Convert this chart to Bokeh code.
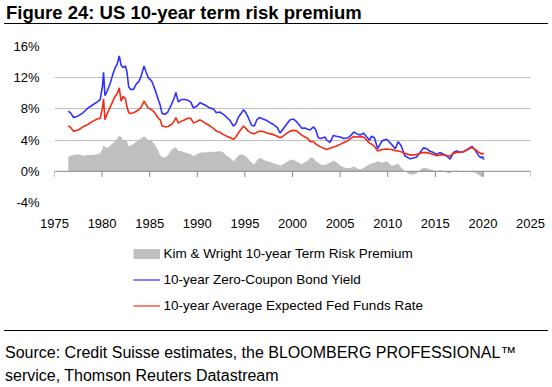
from bokeh.plotting import figure
from bokeh.layouts import column
from bokeh.models import (ColumnDataSource, FixedTicker, PrintfTickFormatter, Span,
                          Legend, LegendItem, Range1d, Div)
from bokeh.embed import file_html
from bokeh.resources import INLINE

# ---------------- data ----------------
years = [1976.45, 1976.7, 1977.0, 1977.5, 1978.0, 1978.5, 1979.0, 1979.5, 1979.8, 1980.05,
         1980.15, 1980.3, 1980.5, 1980.8, 1981.1, 1981.35, 1981.6, 1981.8, 1982.0, 1982.2,
         1982.45, 1982.6, 1982.8, 1983.0, 1983.3, 1983.6, 1983.85, 1984.1, 1984.4, 1984.6,
         1984.85, 1985.2, 1985.55, 1985.9, 1986.1, 1986.3, 1986.6, 1986.9, 1987.3, 1987.6,
         1987.75, 1988.0, 1988.3, 1988.7, 1989.0, 1989.3, 1989.6, 1990.0, 1990.3, 1990.8,
         1991.35, 1991.7, 1992.0, 1992.35, 1992.75, 1993.1, 1993.45, 1993.8, 1994.05, 1994.3,
         1994.6, 1994.85, 1995.1, 1995.35, 1995.7, 1996.0, 1996.25, 1996.55, 1996.9, 1997.3,
         1997.7, 1998.0, 1998.4, 1998.7, 1999.0, 1999.3, 1999.75, 2000.1, 2000.4, 2000.8,
         2001.0, 2001.3, 2001.6, 2001.85, 2002.2, 2002.45, 2002.7, 2003.0, 2003.4, 2003.6,
         2003.95, 2004.3, 2004.6, 2005.0, 2005.4, 2005.85, 2006.2, 2006.45, 2006.9, 2007.2,
         2007.45, 2007.8, 2008.1, 2008.3, 2008.6, 2008.95, 2009.4, 2009.9, 2010.4, 2010.8,
         2011.1, 2011.4, 2011.8, 2012.35, 2012.7, 2013.0, 2013.4, 2013.75, 2014.1, 2014.4,
         2014.8, 2015.15, 2015.5, 2015.85, 2016.2, 2016.55, 2016.9, 2017.25, 2017.6, 2017.95,
         2018.5, 2018.85, 2019.2, 2019.5, 2019.8, 2019.95, 2020.1]

zero_coupon_yield = [7.7, 7.5, 6.9, 7.1, 7.5, 8.1, 8.5, 8.9, 9.2, 11.0,
                     12.7, 9.7, 10.2, 11.1, 12.3, 13.2, 13.8, 14.8, 13.6, 13.3,
                     13.5, 12.8, 10.8, 10.5, 10.5, 11.2, 11.5, 12.2, 13.5, 12.8,
                     12.0, 11.6, 10.5, 9.2, 8.5, 7.4, 7.3, 7.6, 8.6, 9.5,
                     10.1, 8.9, 9.2, 9.2, 9.1, 8.9, 8.1, 8.4, 8.8, 8.5,
                     8.1, 8.0, 7.5, 7.6, 7.3, 6.9, 6.5, 5.8, 6.1, 6.9,
                     7.4, 7.9, 7.5, 6.9, 5.9, 5.8, 6.6, 6.9, 6.7, 6.5,
                     6.2, 6.0, 5.6, 4.9, 5.4, 5.9, 6.6, 6.7, 6.4, 5.8,
                     5.5, 5.55, 5.4, 5.3, 5.7, 5.3, 4.3, 4.2, 4.4, 4.0,
                     3.7, 4.6, 4.5, 4.4, 4.2, 4.3, 4.7, 5.05, 4.7, 4.7,
                     4.9, 4.4, 4.0, 4.5, 4.3, 2.9, 3.9, 4.1, 3.45, 2.9,
                     3.8, 3.3, 2.0, 1.6, 1.7, 1.8, 2.4, 3.0, 2.9, 2.6,
                     2.4, 2.15, 2.4, 2.2, 2.0, 1.55, 2.4, 2.6, 2.45, 2.5,
                     2.9, 3.2, 2.7, 2.1, 1.7, 1.9, 1.5]

expected_fed_funds = [5.85, 5.6, 5.15, 5.3, 5.7, 6.0, 6.4, 6.7, 6.8, 8.2,
                      9.3, 6.6, 7.3, 8.1, 8.9, 9.6, 10.0, 10.7, 9.0, 9.6,
                      9.3, 8.3, 7.5, 7.4, 7.5, 7.7, 7.9, 8.2, 9.0, 8.6,
                      8.1, 7.9, 7.5, 6.8, 6.6, 5.8, 5.7, 5.75, 6.0, 6.5,
                      6.9, 6.2, 6.4, 6.6, 6.8, 6.8, 6.2, 6.4, 6.6, 6.2,
                      5.8, 5.5, 5.15, 5.0, 4.7, 4.5, 4.3, 4.1, 4.4, 4.9,
                      5.4, 5.8, 5.5, 5.15, 4.9, 4.8, 5.0, 5.15, 5.1, 4.9,
                      4.8, 4.7, 4.5, 4.3, 4.5, 4.8, 5.15, 5.25, 5.2, 4.8,
                      4.6, 4.4, 4.2, 3.8, 3.8, 3.5, 3.3, 3.1, 2.9, 2.8,
                      2.95, 3.1, 3.25, 3.45, 3.7, 3.95, 4.3, 4.45, 4.4, 4.45,
                      4.4, 4.0, 3.6, 3.5, 3.2, 2.6, 2.8, 2.85, 2.8, 2.65,
                      2.6, 2.5, 2.3, 2.1, 2.1, 2.15, 2.3, 2.4, 2.4, 2.3,
                      2.15, 2.0, 2.1, 2.1, 2.0, 1.95, 2.3, 2.4, 2.45, 2.5,
                      2.85, 3.05, 2.8, 2.5, 2.25, 2.3, 2.25]

term_premium = [1.9, 2.0, 2.1, 2.2, 2.0, 2.1, 2.1, 2.2, 2.3, 2.9,
                3.4, 3.1, 3.0, 3.2, 3.6, 3.9, 4.2, 4.6, 4.4, 4.0,
                3.9, 3.85, 3.2, 3.3, 3.5, 3.8, 4.0, 4.2, 4.5, 4.3,
                4.0, 3.9, 3.4, 2.6, 2.1, 1.8, 1.8, 2.0, 2.8, 3.0,
                3.1, 2.6, 2.6, 2.4, 2.3, 2.2, 1.95, 2.2, 2.4, 2.4,
                2.5, 2.5, 2.5, 2.6, 2.4, 1.95, 1.7, 1.3, 1.6, 2.0,
                2.2, 2.1, 1.95, 1.6, 1.1, 0.9, 1.4, 1.75, 1.5, 1.3,
                1.2, 1.0, 0.9, 0.7, 0.9, 1.1, 1.5, 1.45, 1.3, 1.0,
                0.95, 1.2, 1.4, 1.75, 1.7, 1.3, 1.1, 0.85, 0.8, 0.9,
                1.1, 1.4, 1.2, 0.75, 0.5, 0.4, 0.5, 0.6, 0.3, 0.25,
                0.45, 0.7, 0.9, 1.0, 1.1, 1.3, 1.1, 1.3, 0.7, 0.8,
                1.0, 0.5, 0.05, -0.4, -0.4, -0.3, 0.2, 0.45, 0.4, 0.25,
                0.15, 0.05, 0.1, 0.1, -0.15, -0.25, 0.0, 0.1, 0.0, 0.05,
                0.05, -0.05, -0.2, -0.4, -0.7, -0.6, -0.8]

x_ticks = [1975, 1980, 1985, 1990, 1995, 2000, 2005, 2010, 2015, 2020, 2025]
y_ticks = [-4, 0, 4, 8, 12, 16]

title_text = "Figure 24: US 10-year term risk premium"
source_lines = ["Source: Credit Suisse estimates, the BLOOMBERG PROFESSIONAL\u2122",
                "service, Thomson Reuters Datastream"]
series_names = ["Kim & Wright 10-year Term Risk Premium",
                "10-year Zero-Coupon Bond Yield",
                "10-year Average Expected Fed Funds Rate"]

FONT = "Liberation Sans"
GRAY, BLUE, RED = "#BFBFBF", "#3030FF", "#F42C14"
W = 552
FL, FW = 54, 476
FR = W - FL - FW

# ---------------- title (HTML) ----------------
HT = 28
title_div = Div(width=W, height=HT, margin=0, text=(
    f'<div style="position:relative;width:{W}px;height:{HT}px;">'
    f'<div style="position:absolute;left:6px;top:2px;white-space:nowrap;'
    f"font-family:'{FONT}';font-weight:bold;font-size:18.5px;line-height:21px;color:#000;\">"
    f'{title_text}</div>'
    f'<div style="position:absolute;left:4px;width:544px;top:23.4px;height:0;'
    f'border-top:1.4px solid #000;"></div></div>'))

# ---------------- main chart ----------------
HM = 212
FT, FH = 18, 156
p = figure(width=W, height=HM, output_backend="svg", toolbar_location=None,
           x_range=Range1d(1975, 2025), y_range=Range1d(-4, 16),
           min_border_left=FL, min_border_right=FR,
           min_border_top=FT, min_border_bottom=HM - FT - FH)
p.outline_line_color = None
p.background_fill_color = "white"
p.border_fill_color = "white"

src = ColumnDataSource(dict(x=years, b=zero_coupon_yield, r=expected_fed_funds,
                            g=term_premium, z=[0] * len(years)))
p.varea(x="x", y1="z", y2="g", source=src, fill_color=GRAY)
p.line("x", "b", source=src, line_color=BLUE, line_width=1.6)
p.line("x", "r", source=src, line_color=RED, line_width=1.6)

for ax in (p.xaxis, p.yaxis):
    ax.axis_line_color = None
    ax.major_tick_line_color = None
    ax.minor_tick_line_color = None
    ax.major_tick_out = 0
    ax.major_tick_in = 0
    ax.major_label_text_font = FONT
    ax.major_label_text_font_size = "13px"
    ax.major_label_text_color = "black"
p.yaxis.ticker = FixedTicker(ticks=y_ticks)
p.yaxis.formatter = PrintfTickFormatter(format="%d%%")
p.yaxis.major_label_standoff = 15
p.xaxis.ticker = FixedTicker(ticks=x_ticks)
p.xaxis.formatter = PrintfTickFormatter(format="%d")
p.xaxis.major_label_standoff = 16

p.xgrid.visible = False
p.ygrid.ticker = FixedTicker(ticks=[t for t in y_ticks if t != 0])
p.ygrid.grid_line_color = GRAY

p.add_layout(Span(location=0, dimension="width", line_color="#868686", line_width=1))
p.segment(x0=x_ticks, y0=[0] * len(x_ticks), x1=x_ticks, y1=[-0.72] * len(x_ticks),
          line_color="#868686", line_width=1)

# ---------------- legend (swatches reuse the same data, kept outside this strip's range) ----
HL = 78
lg = figure(width=W, height=HL, output_backend="svg", toolbar_location=None,
            x_axis_type=None, y_axis_type=None, min_border_left=FL, min_border_right=FR,
            min_border_top=0, min_border_bottom=0,
            x_range=Range1d(0, 1), y_range=Range1d(0, 1))
lg.outline_line_color = None
lg.background_fill_color = "white"
lg.border_fill_color = "white"
k_area = lg.line("x", "g", source=src, line_color=GRAY, line_width=10, line_cap="butt")
k_blue = lg.line("x", "b", source=src, line_color=BLUE, line_width=1.2)
k_red = lg.line("x", "r", source=src, line_color=RED, line_width=1.2)
legend = Legend(items=[LegendItem(label=series_names[0], renderers=[k_area]),
                       LegendItem(label=series_names[1], renderers=[k_blue]),
                       LegendItem(label=series_names[2], renderers=[k_red])],
                location=(132.5 - FL, 5.4), orientation="vertical",
                glyph_width=27, glyph_height=15, label_height=15, spacing=11,
                padding=0, margin=0, border_line_color=None, background_fill_alpha=0,
                label_standoff=4, label_text_font=FONT, label_text_font_size="13.5px",
                label_text_color="black")
lg.add_layout(legend)

# ---------------- source note (HTML) ----------------
HS = 387 - HT - HM - HL
source_div = Div(width=W, height=HS, margin=0, text=(
    f'<div style="position:relative;width:{W}px;height:{HS}px;">'
    f'<div style="position:absolute;left:4px;width:544px;top:12.4px;height:0;'
    f'border-top:1.3px solid #000;"></div>'
    f'<div style="position:absolute;left:5px;top:22.5px;white-space:nowrap;'
    f"font-family:'{FONT}';font-size:16px;line-height:23.7px;color:#000;\">"
    f'{source_lines[0]}<br>{source_lines[1]}</div></div>'))

layout = column(title_div, p, lg, source_div, spacing=0)
open("out.html", "w").write(file_html(layout, INLINE))
